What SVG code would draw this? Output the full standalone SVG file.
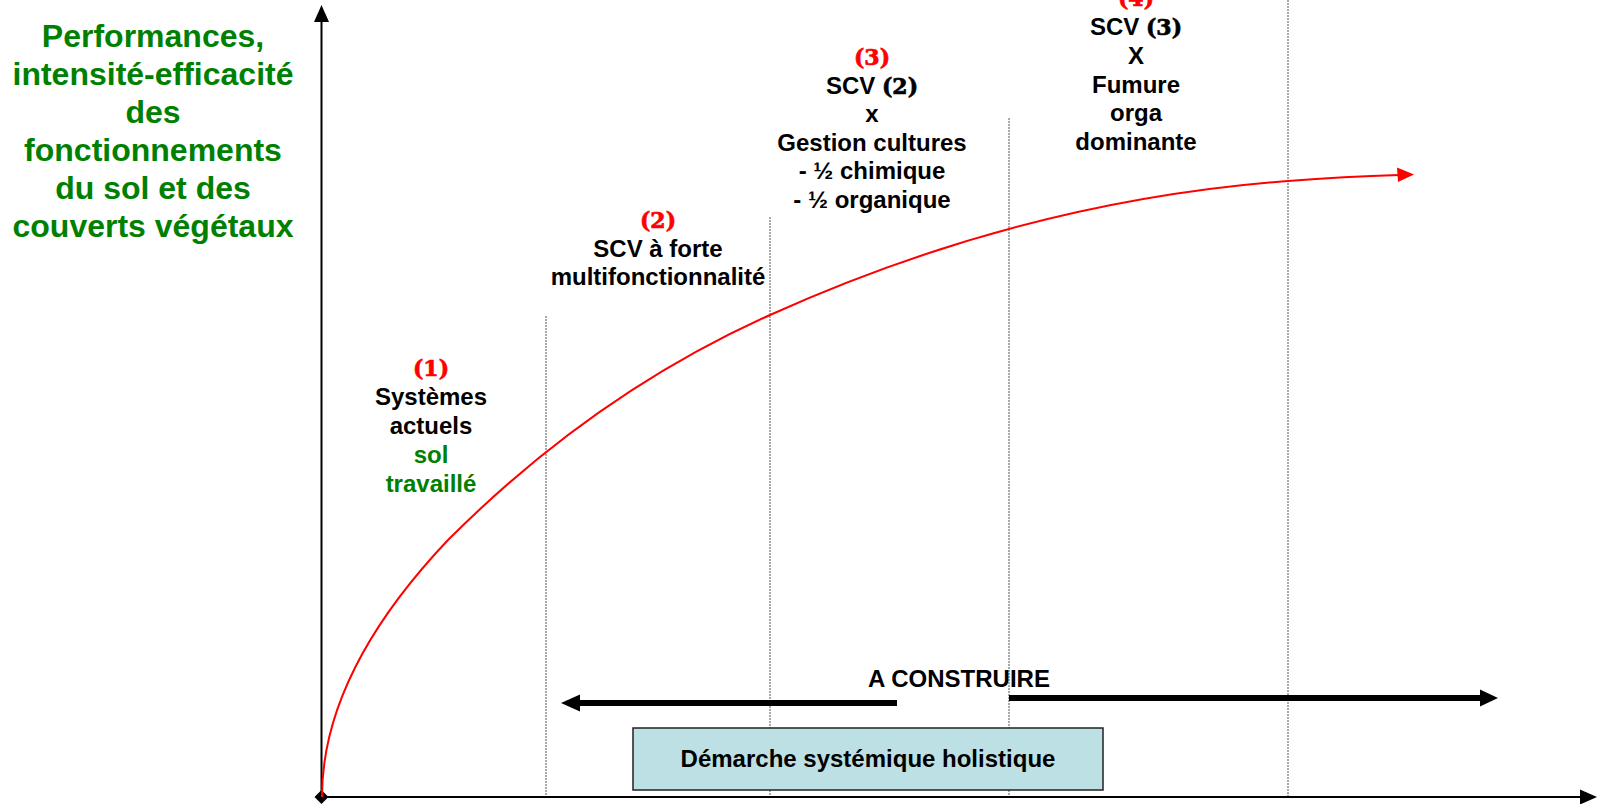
<svg xmlns="http://www.w3.org/2000/svg" width="1604" height="804" viewBox="0 0 1604 804">
<style>
  text { font-family: "Liberation Sans", Arial, sans-serif; font-weight: bold; text-anchor: middle; }
  .t { font-size: 24px; fill: #000; }
  .g { fill: #008000; }
  .title { font-size: 32px; fill: #008000; }
  .num { font-family: "DejaVu Serif", serif; font-size: 22px; font-weight: bold; stroke: #000; stroke-width: 0.7; }
  .red { fill: #ff0000; stroke: #ff0000; }
  .dot { stroke: #555; stroke-width: 1; stroke-dasharray: 2 1; fill: none; }
  .axis { stroke: #000; stroke-width: 2; fill: none; }
  .thick { stroke: #000; stroke-width: 6; fill: none; }
</style>
<rect x="0" y="0" width="1604" height="804" fill="#fff"/>

<g id="title">
  <text class="title" x="153" y="47">Performances,</text>
  <text class="title" x="153" y="85">intensité-efficacité</text>
  <text class="title" x="153" y="123">des</text>
  <text class="title" x="153" y="161">fonctionnements</text>
  <text class="title" x="153" y="199">du sol et des</text>
  <text class="title" x="153" y="237">couverts végétaux</text>
</g>

<g id="gridlines">
  <line class="dot" x1="546" y1="316" x2="546" y2="797"/>
  <line class="dot" x1="770" y1="217" x2="770" y2="797"/>
  <line class="dot" x1="1009" y1="118" x2="1009" y2="797"/>
  <line class="dot" x1="1288" y1="0" x2="1288" y2="797"/>
</g>

<g id="axes">
  <line class="axis" x1="321.5" y1="20" x2="321.5" y2="797"/>
  <polygon points="321.5,5 329,22 314,22" fill="#000"/>
  <line class="axis" x1="321.5" y1="797" x2="1582" y2="797"/>
  <polygon points="1597,797 1580,789.5 1580,804.5" fill="#000"/>
  <polygon points="321.5,790 328.5,797 321.5,804 314.5,797" fill="#000"/>
</g>

<g id="node1">
  <text class="num red" x="431" y="376">(1)</text>
  <text class="t" x="431" y="405">Systèmes</text>
  <text class="t" x="431" y="434">actuels</text>
  <text class="t g" x="431" y="463">sol</text>
  <text class="t g" x="431" y="492">travaillé</text>
</g>

<g id="node2">
  <text class="num red" x="658" y="228">(2)</text>
  <text class="t" x="658" y="257">SCV à forte</text>
  <text class="t" x="658" y="285">multifonctionnalité</text>
</g>

<g id="node3">
  <text class="num red" x="872" y="65">(3)</text>
  <text class="t" x="872" y="94">SCV <tspan class="num">(2)</tspan></text>
  <text class="t" x="872" y="122">x</text>
  <text class="t" x="872" y="151">Gestion cultures</text>
  <text class="t" x="872" y="179">- ½ chimique</text>
  <text class="t" x="872" y="208">- ½ organique</text>
</g>

<g id="node4">
  <text class="num red" x="1136" y="6">(4)</text>
  <text class="t" x="1136" y="35">SCV <tspan class="num">(3)</tspan></text>
  <text class="t" x="1136" y="64">X</text>
  <text class="t" x="1136" y="93">Fumure</text>
  <text class="t" x="1136" y="121">orga</text>
  <text class="t" x="1136" y="150">dominante</text>
</g>

<g id="construire">
  <text class="t" x="959" y="687">A CONSTRUIRE</text>
</g>

<g id="demarche">
  <rect x="633" y="728" width="470" height="62" fill="#bce0e3" stroke="#222" stroke-width="1.5"/>
  <text class="t" x="868" y="767">Démarche systémique holistique</text>
</g>

<g id="connectors">
  <path d="M322,797 Q322,673 448,540 C555,433 663,363 770,315 C943,237 1115,194 1288,181 C1325,178 1361,176 1399,175" stroke="#ff0000" stroke-width="2" fill="none"/>
  <polygon points="1414,174.5 1397,167.5 1398,182" fill="#ff0000"/>
  <line class="thick" x1="897" y1="703" x2="576" y2="703"/>
  <polygon points="561,703 580,694.5 580,711.5" fill="#000"/>
  <line class="thick" x1="1009" y1="698" x2="1483" y2="698"/>
  <polygon points="1498,698 1480,689.5 1480,706.5" fill="#000"/>
</g>
</svg>
